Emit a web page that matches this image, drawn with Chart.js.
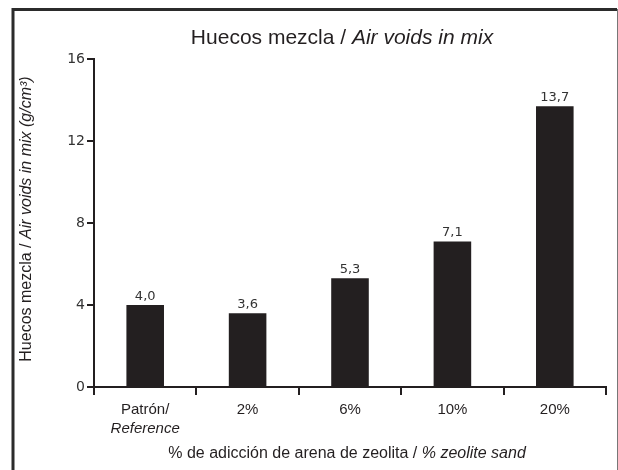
<!DOCTYPE html>
<html>
<head>
<meta charset="utf-8">
<script src="https://cdn.jsdelivr.net/npm/chart.js@4.4.0/dist/chart.umd.min.js"></script>
<style>
  html, body { margin: 0; padding: 0; background: #fff; }
  #wrap { width: 618px; height: 470px; }
</style>
</head>
<body>
<div id="wrap"><canvas id="c" width="618" height="470"></canvas></div>
<script>
// data
var categories = ['Patrón/', '2%', '6%', '10%', '20%'];
var categoryNotes = ['Reference', '', '', '', ''];
var airVoids = [4.0, 3.6, 5.3, 7.1, 13.7];
var yTicks = [0, 4, 8, 12, 16];

var ink = '#231f20';

function drawMixed(ctx, parts, cx, cy) {
    // parts: [[text, font], ...] centred on cx
    var total = 0;
    for (var i = 0; i < parts.length; i++) {
        ctx.font = parts[i][1];
        total += ctx.measureText(parts[i][0]).width;
    }
    var x = cx - total / 2;
    ctx.textAlign = 'left';
    for (var i = 0; i < parts.length; i++) {
        ctx.font = parts[i][1];
        ctx.fillText(parts[i][0], x, cy);
        x += ctx.measureText(parts[i][0]).width;
    }
}

var decor = {
    id: 'decor',
    beforeDraw: function(chart) {
        var ctx = chart.ctx;
        ctx.save();
        ctx.fillStyle = '#fff';
        ctx.fillRect(0, 0, chart.width, chart.height);
        // frame
        ctx.strokeStyle = '#2b2b2b';
        ctx.lineWidth = 3;
        ctx.beginPath();
        ctx.moveTo(13, 470); ctx.lineTo(13, 9.5); ctx.lineTo(617, 9.5);
        ctx.stroke();
        ctx.strokeStyle = '#777';
        ctx.lineWidth = 1;
        ctx.beginPath();
        ctx.moveTo(617.5, 9); ctx.lineTo(617.5, 470);
        ctx.stroke();
        ctx.restore();
    },
    afterDraw: function(chart) {
        var ctx = chart.ctx;
        var area = chart.chartArea;
        ctx.save();
        ctx.fillStyle = ink;
        ctx.textBaseline = 'alphabetic';
        // title
        drawMixed(ctx, [
            ['Huecos mezcla / ', '21px "Liberation Sans", Arial, sans-serif'],
            ['Air voids in mix', 'italic 21px "Liberation Sans", Arial, sans-serif']
        ], 342, 44);
        // x axis title
        drawMixed(ctx, [
            ['% de adicción de arena de zeolita / ', '16px "Liberation Sans", Arial, sans-serif'],
            ['% zeolite sand', 'italic 16px "Liberation Sans", Arial, sans-serif']
        ], 347, 458);
        // y axis title
        ctx.save();
        ctx.translate(31, 219);
        ctx.rotate(-Math.PI / 2);
        drawMixed(ctx, [
            ['Huecos mezcla / ', '16px "Liberation Sans", Arial, sans-serif'],
            ['Air voids in mix (g/cm³)', 'italic 16px "Liberation Sans", Arial, sans-serif']
        ], 0, 0);
        ctx.restore();
        // second line of category labels
        var xs = chart.scales.x;
        ctx.font = 'italic 15px "Liberation Sans", Arial, sans-serif';
        ctx.textAlign = 'center';
        for (var i = 0; i < categoryNotes.length; i++) {
            if (categoryNotes[i]) ctx.fillText(categoryNotes[i], xs.getPixelForValue(i), 433);
        }
        // value labels
        var meta = chart.getDatasetMeta(0);
        ctx.font = '13px "DejaVu Sans", Verdana, sans-serif';
        ctx.fillStyle = '#333';
        for (var i = 0; i < meta.data.length; i++) {
            var bar = meta.data[i];
            ctx.fillText(airVoids[i].toFixed(1).replace('.', ','), bar.x, bar.y - 5);
        }
        ctx.restore();
    }
};

new Chart(document.getElementById('c'), {
    type: 'bar',
    data: {
        labels: categories,
        datasets: [{
            data: airVoids,
            backgroundColor: ink,
            borderWidth: 0,
            categoryPercentage: 1,
            barPercentage: 0.367
        }]
    },
    options: {
        responsive: false,
        animation: false,
        layout: { padding: { top: 59, right: 12, left: 0, bottom: 0 } },
        plugins: { legend: { display: false }, tooltip: { enabled: false } },
        scales: {
            x: {
                afterFit: function(s) { s.height = 83; },
                grid: { display: true, drawOnChartArea: false, drawTicks: true, tickLength: 8, color: ink, lineWidth: 2, offset: true },
                border: { display: true, color: ink, width: 2 },
                ticks: { color: ink, padding: 6, font: { family: '"Liberation Sans", Arial, sans-serif', size: 15 } }
            },
            y: {
                min: 0, max: 16,
                afterFit: function(s) { s.width = 94; },
                afterBuildTicks: function(s) { s.ticks = yTicks.map(function(v) { return { value: v }; }); },
                grid: { display: true, drawOnChartArea: false, drawTicks: true, tickLength: 7, color: ink, lineWidth: 2 },
                border: { display: true, color: ink, width: 2 },
                ticks: { color: '#333', padding: 2, font: { family: '"DejaVu Sans", Verdana, sans-serif', size: 14 } }
            }
        }
    },
    plugins: [decor]
});
</script>
</body>
</html>
